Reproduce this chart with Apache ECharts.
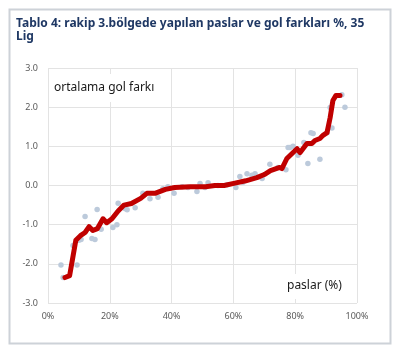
<!DOCTYPE html>
<html>
<head>
<meta charset="utf-8">
<script src="https://cdn.jsdelivr.net/npm/echarts@6/dist/echarts.min.js"></script>
<style>
  html, body { margin: 0; padding: 0; background: #fff; }
  #chart { width: 394px; height: 352px; }
</style>
</head>
<body>
<div id="chart"></div>
<script>
// noktalar: [paslar %, ortalama gol farkı]
var scatterPoints = [
  [4.2, -2.03], [4.9, -2.35], [8.1, -1.53], [9.4, -2.03], [10.0, -1.4], [10.7, -1.38],
  [12.0, -0.79], [14.2, -1.35], [15.2, -1.38], [15.9, -0.61], [17.2, -1.12], [21.0, -1.07],
  [22.3, -1.0], [22.7, -0.45], [24.9, -0.59], [25.6, -0.62], [28.2, -0.57], [30.7, -0.2],
  [33.0, -0.34], [35.6, -0.3], [37.2, -0.08], [38.8, -0.03], [40.8, -0.2], [43.4, -0.03],
  [45.3, -0.05], [48.2, -0.15], [49.2, 0.05], [50.8, -0.05], [51.8, 0.07], [55.0, 0.0],
  [58.0, 0.02], [60.8, -0.05], [62.1, 0.23], [63.1, 0.08], [64.4, 0.3], [66.0, 0.26],
  [67.0, 0.3], [69.3, 0.18], [71.8, 0.54], [74.4, 0.46], [77.0, 0.4], [77.7, 0.97],
  [78.3, 0.97], [79.3, 1.0], [80.9, 0.77], [82.8, 1.1], [84.1, 0.56], [85.1, 1.35],
  [85.8, 1.33], [88.0, 0.67], [90.3, 1.35], [91.3, 1.99], [91.9, 1.47], [95.1, 2.32],
  [96.1, 2.0]
];

// kırmızı çizgi (hareketli ortalama)
var trendLine = [
  [5.5, -2.35], [7.0, -2.3], [8.0, -1.85], [9.0, -1.4], [10.5, -1.28], [12.0, -1.2],
  [13.3, -1.05], [14.5, -1.15], [16.0, -1.1], [17.8, -0.85], [19.0, -0.95], [20.7, -0.85],
  [22.7, -0.65], [24.6, -0.5], [27.0, -0.46], [30.0, -0.33], [32.0, -0.2], [34.6, -0.2],
  [38.0, -0.1], [41.0, -0.05], [46.0, -0.03], [51.0, -0.03], [54.0, 0.0], [57.0, 0.0],
  [60.5, 0.06], [64.0, 0.12], [67.6, 0.2], [70.0, 0.28], [72.0, 0.38], [75.0, 0.46],
  [75.7, 0.43], [77.3, 0.69], [80.6, 0.94], [81.6, 0.84], [83.8, 1.07], [85.4, 1.07],
  [86.4, 1.15], [88.0, 1.2], [89.0, 1.28], [90.3, 1.35], [91.3, 1.73], [92.2, 2.17],
  [93.2, 2.3], [94.5, 2.3]
];

var titleText = 'Tablo 4: rakip 3.bölgede yapılan paslar ve gol farkları %, 35\nLig';
var yLabel = 'ortalama gol farkı';
var xLabel = 'paslar (%)';

var chart = echarts.init(document.getElementById('chart'), null, { renderer: 'canvas' });

var option = {
  animation: false,
  backgroundColor: '#fff',
  title: {
    text: titleText,
    left: 16,
    top: 17,
    padding: 0,
    textStyle: {
      color: '#1f3864',
      fontFamily: 'Noto Sans',
      fontWeight: 'bold',
      fontSize: 12,
      lineHeight: 13
    }
  },
  grid: {
    left: 48,
    right: 37,
    top: 68,
    bottom: 49
  },
  xAxis: {
    type: 'value',
    min: 0,
    max: 100,
    interval: 20,
    axisLine: { show: false },
    axisTick: { show: false },
    axisLabel: {
      formatter: '{value}%',
      color: '#595959',
      fontFamily: 'Noto Sans',
      fontSize: 9,
      margin: 9
    },
    splitLine: { lineStyle: { color: '#e3e3e3', width: 1 } }
  },
  yAxis: {
    type: 'value',
    min: -3,
    max: 3,
    interval: 1,
    axisLine: { show: false },
    axisTick: { show: false },
    axisLabel: {
      formatter: function (v) { return v.toFixed(1); },
      color: '#595959',
      fontFamily: 'Noto Sans',
      fontSize: 9,
      margin: 10
    },
    splitLine: { lineStyle: { color: '#e3e3e3', width: 1 } }
  },
  series: [{
    name: 'noktalar',
    type: 'scatter',
    data: scatterPoints,
    symbolSize: 5.5,
    itemStyle: { color: '#bccadb', opacity: 1 }
  }, {
    name: 'ortalama',
    type: 'line',
    data: trendLine,
    showSymbol: false,
    symbol: 'none',
    lineStyle: { color: '#c00000', width: 5, join: 'round', cap: 'round' }
  }],
  graphic: [{
    type: 'rect',
    left: 7,
    top: 7,
    shape: { width: 381, height: 334 },
    style: { fill: 'none', stroke: '#cdd2d8', lineWidth: 2 },
    silent: true,
    z: -1
  }, {
    type: 'text',
    left: 50,
    top: 74,
    z: 10,
    style: {
      text: yLabel,
      fill: '#1a1a1a',
      font: '12px "Noto Sans"',
      backgroundColor: '#fff',
      padding: [8, 5, 8, 4]
    }
  }, {
    type: 'text',
    left: 283,
    top: 274,
    z: 10,
    style: {
      text: xLabel,
      fill: '#1a1a1a',
      font: '12px "Noto Sans"',
      backgroundColor: '#fff',
      padding: [6, 5, 7, 4]
    }
  }]
};

chart.setOption(option);
</script>
</body>
</html>
